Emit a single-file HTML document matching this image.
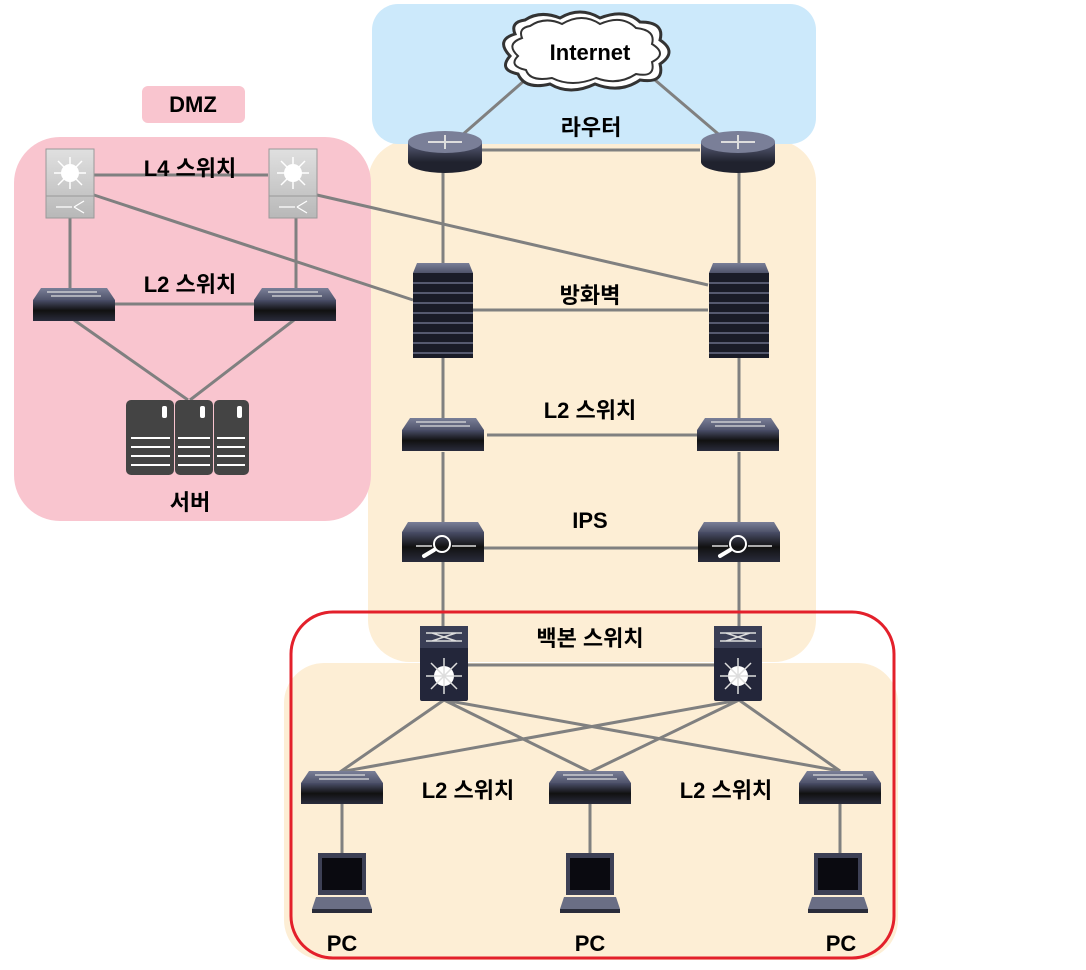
<!DOCTYPE html>
<html><head><meta charset="utf-8"><style>
html,body{margin:0;padding:0;background:#fff}
svg{display:block}
text{font-family:"Liberation Sans","Noto Sans CJK KR",sans-serif;font-weight:bold;font-size:22px;fill:#000}
</style></head><body>
<svg width="1086" height="970" viewBox="0 0 1086 970" xmlns="http://www.w3.org/2000/svg">
<defs>
<linearGradient id="dk" x1="0" y1="0" x2="0" y2="1"><stop offset="0" stop-color="#4a4e68"/><stop offset="0.5" stop-color="#111"/><stop offset="1" stop-color="#2a2c3c"/></linearGradient>
<linearGradient id="tp" x1="0" y1="0" x2="0" y2="1"><stop offset="0" stop-color="#7a7f98"/><stop offset="1" stop-color="#4f536a"/></linearGradient>
<linearGradient id="rt" x1="0" y1="0" x2="0" y2="1"><stop offset="0" stop-color="#5a5f7a"/><stop offset="1" stop-color="#20222e"/></linearGradient>
<linearGradient id="gr" x1="0" y1="0" x2="0" y2="1"><stop offset="0" stop-color="#e0e0e0"/><stop offset="1" stop-color="#b8b8b8"/></linearGradient>
<g id="sw"><path d="M8 0 H74 L82 12 H0 Z" fill="url(#tp)"/><rect x="0" y="12" width="82" height="21" fill="url(#dk)"/><path d="M14 4 H64 M18 8 H68" stroke="#ddd" stroke-width="1.2"/></g>
<g id="ips"><path d="M6 0 H76 L82 10 H0 Z" fill="url(#tp)"/><rect x="0" y="10" width="82" height="30" fill="url(#dk)"/><circle cx="40" cy="22" r="8" fill="none" stroke="#fff" stroke-width="2"/><path d="M14 24 H30 M50 24 H74" stroke="#ddd" stroke-width="1.5"/><path d="M22 34 L32 28" stroke="#fff" stroke-width="4" stroke-linecap="round"/></g>
<g id="fw"><path d="M4 0 H56 L60 10 H0 Z" fill="url(#tp)"/><rect x="0" y="10" width="60" height="85" fill="#1a1c28"/>
<g stroke="#6a6f88" stroke-width="1.5"><path d="M0 20H60M0 30H60M0 40H60M0 50H60M0 60H60M0 70H60M0 80H60M0 90H60"/></g></g>
<g id="rtr"><ellipse cx="37" cy="31" rx="37" ry="11" fill="#20222e"/><rect x="0" y="11" width="74" height="20" fill="url(#rt)"/><ellipse cx="37" cy="11" rx="37" ry="11" fill="#7a7f98"/><path d="M20 11H54M37 4V18" stroke="#ddd" stroke-width="2"/></g>
<g id="bb"><rect x="0" y="0" width="48" height="75" rx="2" fill="#23263a"/><rect x="0" y="0" width="48" height="22" fill="#3a3e55"/><path d="M6 7H42M6 15H42M12 7L36 15M12 15L36 7" stroke="#ddd" stroke-width="1.5"/><circle cx="24" cy="50" r="10" fill="#fff"/><path d="M24 32V68M6 50H42M11 37L37 63M37 37L11 63" stroke="#ddd" stroke-width="1.5"/></g>
<g id="l4"><rect x="0" y="0" width="48" height="69" fill="url(#gr)" stroke="#999"/><line x1="0" y1="47" x2="48" y2="47" stroke="#999"/><circle cx="24" cy="24" r="9" fill="#fff"/><path d="M24 8V40M8 24H40M12 12L36 36M36 12L12 36" stroke="#fff" stroke-width="1.5"/><path d="M10 58H26M28 58L38 52M28 58L38 64" stroke="#fff" stroke-width="1.3" fill="none"/></g>
<g id="pc"><rect x="6" y="0" width="48" height="42" fill="#3d4055"/><rect x="10" y="5" width="40" height="32" fill="#0a0a10"/><path d="M4 44H56L60 56H0Z" fill="#6a6e85"/><rect x="0" y="56" width="60" height="4" fill="#2a2c3a"/></g>
</defs>
<rect x="368" y="140" width="448" height="522" rx="42" fill="#fdeed5"/>
<rect x="372" y="4" width="444" height="140" rx="26" fill="#cce9fb"/>
<rect x="284" y="663" width="614" height="297" rx="40" fill="#fdeed5"/>
<rect x="14" y="137" width="357" height="384" rx="46" fill="#f9c5cf"/>
<rect x="142" y="86" width="103" height="37" rx="6" fill="#f9c5cf"/>
<text x="193" y="112" text-anchor="middle">DMZ</text>
<g stroke="#808080" stroke-width="3" fill="none">
<path d="M445 150L525 80M737 150L655 80M482 150H700M443 170V263M739 170V263M443 358V420M739 358V420M443 452V522M739 452V522M443 562V626M739 562V626M470 548H698M487 435H697M473 310H708"/>
<path d="M94 175H268M94 195L413 300M317 195L708 285M70 218V290M296 218V290M115 304H254M74 320L188 400M294 320L190 400"/>
<path d="M444 700L340 772M444 700L590 772M444 700L840 771M739 700L340 772M739 700L590 772M739 700L840 771M468 665H714M342 804V853M590 804V853M840 804V853"/>
</g>
<rect x="291" y="612" width="603" height="346" rx="42" fill="none" stroke="#e3202b" stroke-width="3"/>
<path d="M525 20 Q540 10 560 18 Q580 6 600 18 Q625 8 640 22 Q665 22 660 40 Q678 52 660 64 Q665 84 640 80 Q620 94 595 84 Q570 96 550 84 Q525 90 518 74 Q498 70 510 56 Q495 40 515 34 Q510 22 525 20Z" fill="#fff" stroke="#333" stroke-width="3"/>
<path d="M530 26 Q545 16 562 24 Q582 12 600 24 Q622 14 636 28 Q656 30 652 44 Q668 54 652 62 Q656 78 636 74 Q618 86 596 78 Q572 88 552 78 Q530 82 526 70 Q508 66 518 56 Q505 44 522 38 Q518 28 530 26Z" fill="#fff" stroke="#333" stroke-width="2"/>
<text x="590" y="60" text-anchor="middle">Internet</text>
<use href="#rtr" x="408" y="131"/><use href="#rtr" x="701" y="131"/>
<use href="#fw" x="413" y="263"/><use href="#fw" x="709" y="263"/>
<use href="#sw" x="402" y="418"/><use href="#sw" x="697" y="418"/>
<use href="#ips" x="402" y="522"/><use href="#ips" x="698" y="522"/>
<use href="#bb" x="420" y="626"/><use href="#bb" x="714" y="626"/>
<use href="#sw" x="301" y="771"/><use href="#sw" x="549" y="771"/><use href="#sw" x="799" y="771"/>
<use href="#pc" x="312" y="853"/><use href="#pc" x="560" y="853"/><use href="#pc" x="808" y="853"/>
<use href="#l4" x="46" y="149"/><use href="#l4" x="269" y="149"/>
<use href="#sw" x="33" y="288"/><use href="#sw" x="254" y="288"/>
<g fill="#444"><rect x="126" y="400" width="48" height="75" rx="5"/><rect x="175" y="400" width="38" height="75" rx="5"/><rect x="214" y="400" width="35" height="75" rx="5"/></g>
<g stroke="#fff" stroke-width="2"><path d="M131 438H170M131 447H170M131 456H170M131 465H170M178 438H210M178 447H210M178 456H210M178 465H210M217 438H245M217 447H245M217 456H245M217 465H245"/></g>
<g fill="#fff"><rect x="162" y="406" width="5" height="12" rx="2"/><rect x="200" y="406" width="5" height="12" rx="2"/><rect x="237" y="406" width="5" height="12" rx="2"/></g>
<text x="591" y="135" text-anchor="middle">라우터</text>
<text x="190" y="176" text-anchor="middle">L4 스위치</text>
<text x="190" y="292" text-anchor="middle">L2 스위치</text>
<text x="190" y="510" text-anchor="middle">서버</text>
<text x="590" y="303" text-anchor="middle">방화벽</text>
<text x="590" y="418" text-anchor="middle">L2 스위치</text>
<text x="590" y="528" text-anchor="middle">IPS</text>
<text x="590" y="646" text-anchor="middle">백본 스위치</text>
<text x="468" y="798" text-anchor="middle">L2 스위치</text>
<text x="726" y="798" text-anchor="middle">L2 스위치</text>
<text x="342" y="951" text-anchor="middle">PC</text>
<text x="590" y="951" text-anchor="middle">PC</text>
<text x="841" y="951" text-anchor="middle">PC</text>
</svg>
</body></html>
